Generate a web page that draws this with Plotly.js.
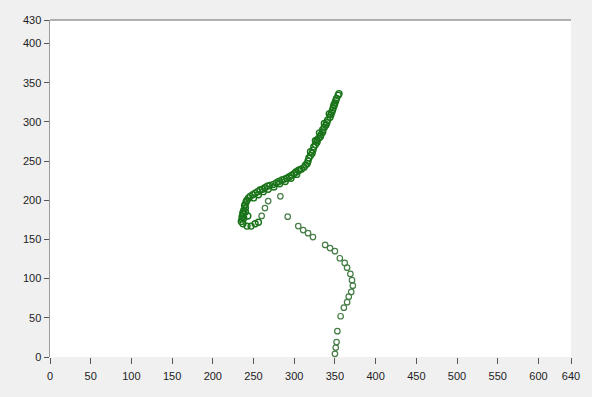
<!DOCTYPE html>
<html>
<head>
<meta charset="utf-8">
<script src="https://cdn.plot.ly/plotly-3.0.1.min.js"></script>
<style>html,body{margin:0;padding:0;background:#f0f0f0;}#chart{width:592px;height:397px;}</style>
</head>
<body>
<div id="chart"></div>
<script>
// Trajectory points (x, y)
const tailX = [350, 351, 352, 353, 357, 361, 365, 367, 370, 372, 371, 369, 365, 362, 356, 350, 344, 338, 323, 317, 311, 305, 292, 283, 268, 264, 260];
const tailY = [4, 12, 19, 33, 52, 63, 70, 77, 83, 91, 98, 106, 114, 120, 126, 135, 139, 143, 153, 158, 162, 167, 179, 205, 199, 190, 180];

const bandX = [256, 252, 247, 242, 237, 235, 236, 236, 237, 237, 238, 240, 239, 240, 241, 242, 244, 246, 249, 252, 255, 258, 261, 264, 267, 270, 274, 278, 281, 285, 288, 291, 294, 297, 300, 302, 305, 307, 309, 312, 314, 316, 317, 318, 320, 322, 323, 324, 326, 328, 328, 330, 332, 333, 335, 335, 337, 339, 340, 341, 344, 345, 346, 347, 348, 349, 350, 351, 352, 354, 355,
               250, 256, 262, 268, 275, 282, 289, 296, 303, 238, 240, 243, 320, 326, 331, 337, 343, 349];
const bandY = [172, 170, 167, 167, 170, 173, 176, 179, 182, 184, 187, 190, 193, 195, 198, 200, 203, 205, 207, 209, 211, 213, 214, 216, 218, 219, 220, 222, 224, 226, 227, 228, 230, 232, 234, 236, 238, 239, 240, 242, 245, 247, 250, 254, 257, 260, 264, 268, 271, 274, 277, 279, 281, 284, 287, 290, 293, 296, 299, 302, 306, 309, 312, 315, 318, 321, 324, 327, 330, 334, 336,
               203, 207, 211, 214, 217, 221, 224, 228, 233, 177, 185, 180, 262, 276, 286, 298, 310, 322];

const xTicks = [0, 50, 100, 150, 200, 250, 300, 350, 400, 450, 500, 550, 600, 640];
const yTicks = [0, 50, 100, 150, 200, 250, 300, 350, 400, 430];

const traces = [
  {x: tailX, y: tailY, type: 'scatter', mode: 'markers', cliponaxis: false,
   marker: {symbol: 'circle-open', size: 5.5, color: 'rgb(70,125,70)', line: {width: 1.2}}},
  {x: bandX, y: bandY, type: 'scatter', mode: 'markers', cliponaxis: false,
   marker: {symbol: 'circle-open', size: 6, color: 'rgb(25,115,25)', line: {width: 1.4}}}
];

const axisFont = {family: 'Liberation Sans, DejaVu Sans, sans-serif', size: 11, color: '#222'};

const layout = {
  width: 592, height: 397,
  paper_bgcolor: '#f0f0f0', plot_bgcolor: '#ffffff',
  margin: {l: 50, r: 21, t: 20, b: 40},
  showlegend: false,
  xaxis: {range: [0, 640], tickvals: xTicks, ticktext: xTicks.map(String),
          showgrid: false, zeroline: false, showline: false,
          ticks: 'outside', ticklen: 6, tickcolor: '#555', tickfont: axisFont,
          ticklabelstandoff: 3, fixedrange: true},
  yaxis: {range: [0, 430], tickvals: yTicks, ticktext: yTicks.map(String),
          showgrid: false, zeroline: false, showline: true, linecolor: '#9a9a9a', linewidth: 1.5,
          ticks: 'outside', ticklen: 5, tickcolor: '#555', tickfont: axisFont, fixedrange: true},
  shapes: [
    {type: 'line', xref: 'paper', yref: 'paper', x0: 0, x1: 1, y0: 1, y1: 1,
     line: {color: '#999', width: 1.5}}
  ]
};

Plotly.newPlot('chart', traces, layout, {displayModeBar: false, staticPlot: true});
</script>
</body>
</html>
